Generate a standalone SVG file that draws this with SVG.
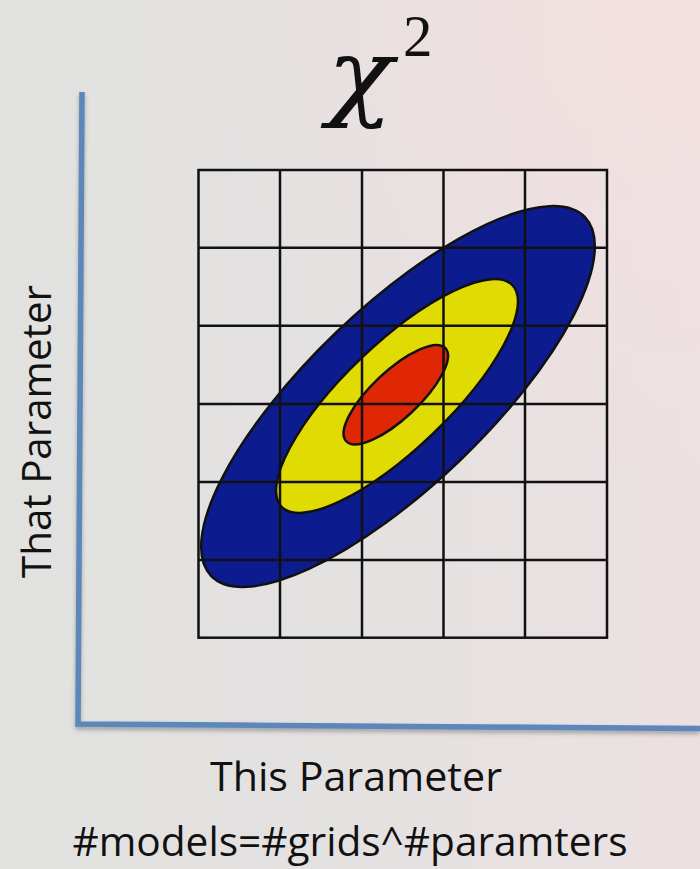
<svg xmlns="http://www.w3.org/2000/svg" width="700" height="869" viewBox="0 0 700 869">
  <defs>
    <linearGradient id="bg" x1="0" y1="0" x2="1" y2="0">
      <stop offset="0" stop-color="#e1e2e0"/>
      <stop offset="0.5" stop-color="#e4e1e1"/>
      <stop offset="1" stop-color="#ece1e2"/>
    </linearGradient>
    <radialGradient id="glow" cx="700" cy="0" r="500" gradientUnits="userSpaceOnUse">
      <stop offset="0" stop-color="#f4dfdf" stop-opacity="0.9"/>
      <stop offset="1" stop-color="#f4dfdf" stop-opacity="0"/>
    </radialGradient>
    <filter id="shadow" x="-5%" y="-5%" width="110%" height="110%">
      <feDropShadow dx="0" dy="3" stdDeviation="2" flood-color="#555" flood-opacity="0.45"/>
    </filter>
    <style>
      .axis { fill: none; stroke: #5b87b9; stroke-width: 5.5; stroke-linecap: butt; }
      .grid { fill: none; stroke: #111; stroke-width: 2.5; }
      .ell { stroke: #111; stroke-width: 2.5; }
      .lbl { font-family: "Open Sans", "Liberation Sans", sans-serif; font-size: 40px; fill: #111; }
      .math { font-family: "DejaVu Serif", "Liberation Serif", serif; fill: #111; }
    </style>
  </defs>

  <rect id="background" x="0" y="0" width="700" height="869" fill="url(#bg)"/>
  <rect x="0" y="0" width="700" height="869" fill="url(#glow)"/>

  <g id="title">
    <text class="math" x="360" y="108" font-size="97" font-style="italic" text-anchor="middle" textLength="66" lengthAdjust="spacingAndGlyphs">χ</text>
    <text class="math" x="403" y="56" font-size="59" style="font-family:'Liberation Serif',serif">2</text>
  </g>

  <g id="axes" filter="url(#shadow)">
    <path class="axis" d="M82,92 L78,724 L700,728.5"/>
  </g>

  <g id="contours">
    <g id="contour-outer">
      <ellipse class="ell" cx="398" cy="396.5" rx="259" ry="89" fill="#0c1c8e" transform="rotate(-43.8 398 396.5)"/>
    </g>
    <g id="contour-middle">
      <ellipse class="ell" cx="397" cy="396" rx="160" ry="52" fill="#e0db02" transform="rotate(-43.8 397 396)"/>
    </g>
    <g id="contour-inner">
      <ellipse class="ell" cx="395.8" cy="394.7" rx="68" ry="23.7" fill="#e02705" transform="rotate(-43.2 395.8 394.7)"/>
    </g>
  </g>

  <g id="grid">
    <rect class="grid" x="198.5" y="170" width="408.5" height="467.7"/>
    <path class="grid" d="M280,170 V637.7 M362,170 V637.7 M443.5,170 V637.7 M525,170 V637.7
                          M198.5,247.7 H607 M198.5,325.7 H607 M198.5,404 H607 M198.5,482 H607 M198.5,560 H607"/>
  </g>

  <g id="x-label">
    <text class="lbl" x="356" y="790.5" text-anchor="middle" textLength="292" lengthAdjust="spacingAndGlyphs">This Parameter</text>
  </g>
  <g id="y-label">
    <text class="lbl" transform="translate(50.5,431.5) rotate(-90)" x="0" y="0" text-anchor="middle" textLength="293" lengthAdjust="spacingAndGlyphs">That Parameter</text>
  </g>
  <g id="formula">
    <text class="lbl" x="350" y="856" text-anchor="middle" textLength="555" lengthAdjust="spacingAndGlyphs">#models=#grids^#paramters</text>
  </g>
</svg>
